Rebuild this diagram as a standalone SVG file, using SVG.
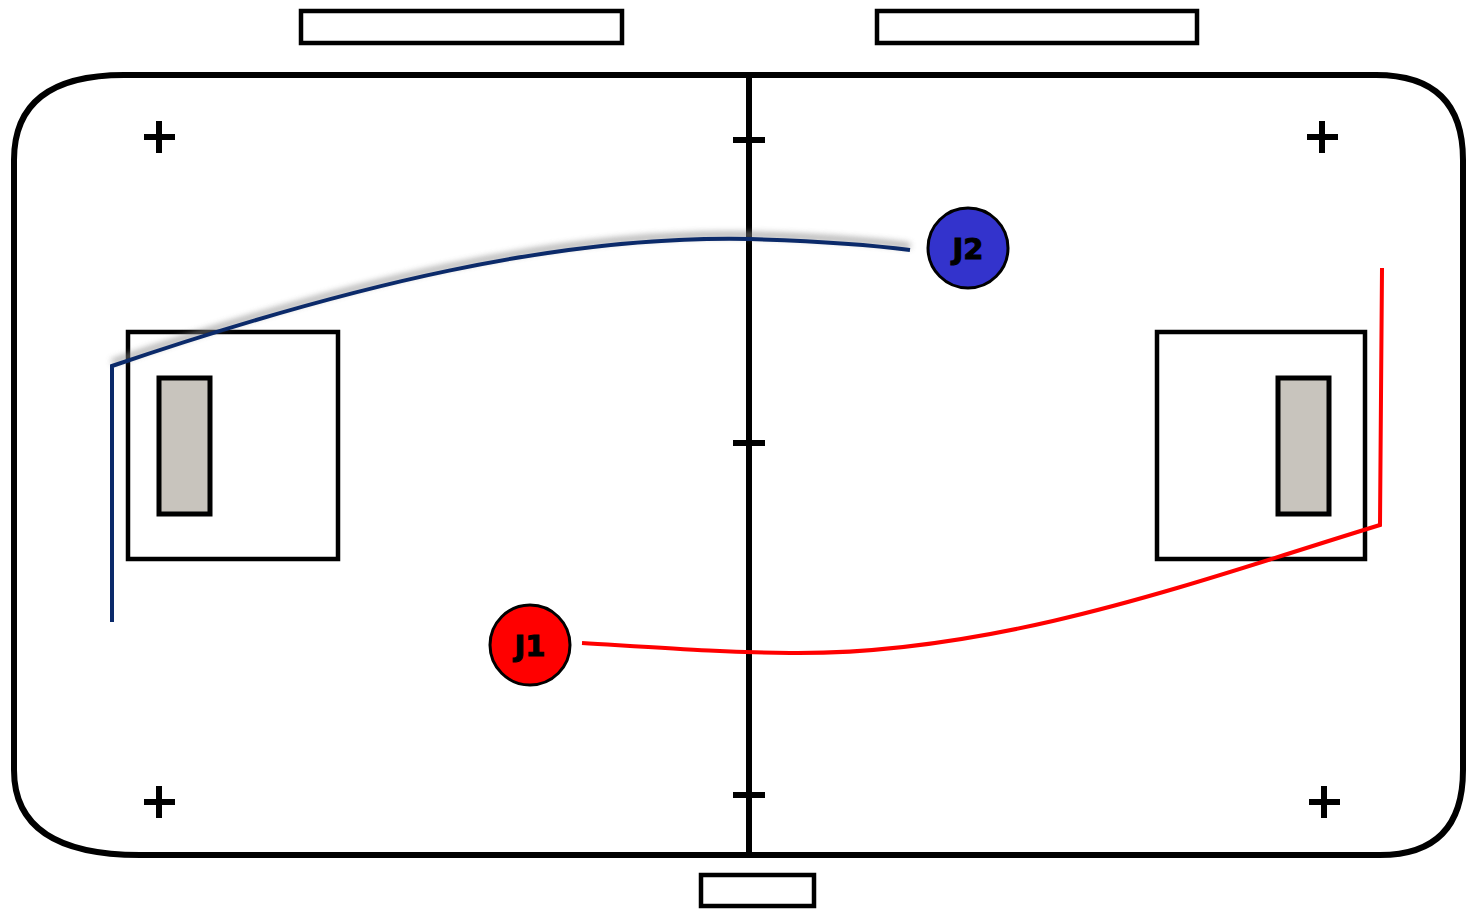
<svg xmlns="http://www.w3.org/2000/svg" width="1466" height="909" viewBox="0 0 1466 909">
<style>
.ln{fill:none;stroke:#000;stroke-width:6}
.box{fill:#fff;stroke:#000;stroke-width:4.5}
.goal{fill:#c8c4bd;stroke:#000;stroke-width:5}
.mk{stroke:#000;stroke-width:6;fill:none}
.lbl{font-family:"DejaVu Sans",Verdana,sans-serif;font-weight:bold;font-size:29px;fill:#000;stroke:#000;stroke-width:1;text-anchor:middle}
</style>
<defs>
<filter id="blur" x="-5%" y="-50%" width="110%" height="200%"><feGaussianBlur stdDeviation="3"/></filter>
</defs>
<rect width="1466" height="909" fill="#fff"/>
<g id="rink">
<path class="ln" d="M124,75 L1376,75 Q1463,75 1463,160 L1463,770 Q1463,855 1380,855 L140,855 Q14,855 14,770 L14,160 Q14,75 124,75 Z"/>
<line class="ln" x1="749" y1="75" x2="749" y2="855"/>
<line class="ln" x1="733" y1="140" x2="765" y2="140"/>
<line class="ln" x1="733" y1="443" x2="765" y2="443"/>
<line class="ln" x1="733" y1="795" x2="765" y2="795"/>
<path class="mk" d="M144,137 H175 M159,121 V153"/>
<path class="mk" d="M1307,137 H1338 M1322,121 V153"/>
<path class="mk" d="M144,802 H175 M159,786 V818"/>
<path class="mk" d="M1309,802 H1340 M1324,786 V818"/>
</g>
<g id="bench-left"><rect class="box" x="301" y="11" width="321" height="32"/></g>
<g id="bench-right"><rect class="box" x="877" y="11" width="320" height="32"/></g>
<g id="bench-bottom"><rect class="box" x="701" y="875" width="113" height="31"/></g>
<g id="zone-left"><rect class="box" x="128" y="332" width="210" height="227"/><rect class="goal" x="159" y="378" width="51" height="136"/></g>
<g id="zone-right"><rect class="box" x="1157" y="332" width="208" height="227"/><rect class="goal" x="1278" y="378" width="51" height="136"/></g>
<g id="connectors">
<path d="M112,362 C350,281 560,231 750,235 Q850,238 910,246" fill="none" stroke="#888" stroke-width="5" filter="url(#blur)" opacity="0.8"/>
<path d="M112,622 L112,366 C350,285 560,235 750,239 Q850,242 910,250" fill="none" stroke="#0b2a6a" stroke-width="4"/>
<path d="M582,643 C680,649 720,652 790,653 C1000,655 1200,580 1380,525 L1382,268" fill="none" stroke="#ff0000" stroke-width="4"/>
</g>
<g id="J2"><circle cx="968" cy="248" r="40" fill="#3333cc" stroke="#000" stroke-width="3"/><text class="lbl" x="968" y="259">J2</text></g>
<g id="J1"><circle cx="530" cy="645" r="40" fill="#ff0000" stroke="#000" stroke-width="3"/><text class="lbl" x="530" y="656">J1</text></g>
</svg>
